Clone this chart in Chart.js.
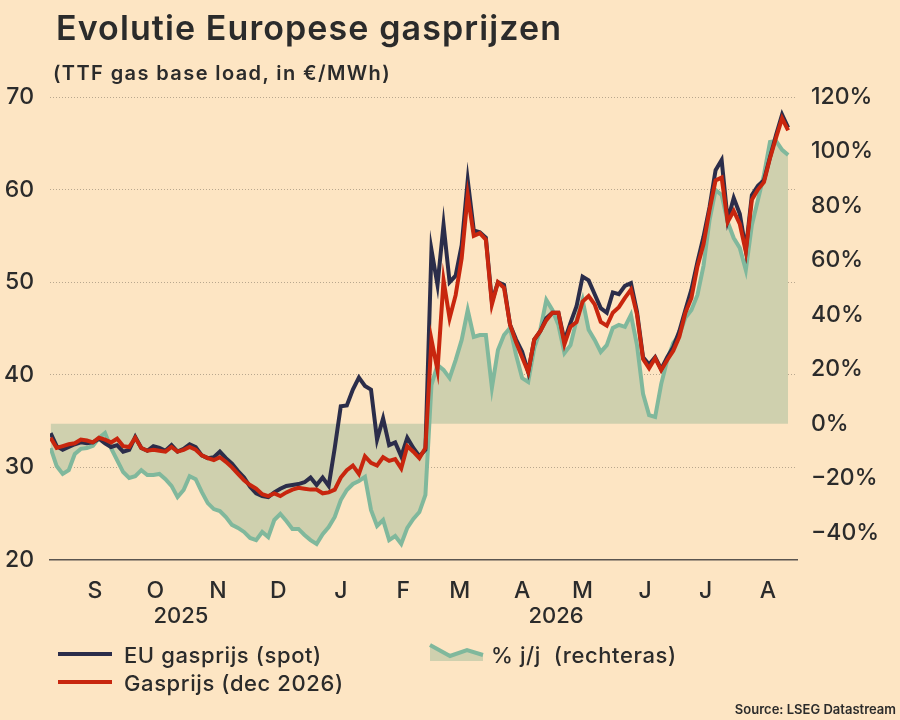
<!DOCTYPE html>
<html lang="nl">
<head>
  <meta charset="UTF-8" />
  <title>Evolutie Europese gasprijzen</title>
  <script src="https://cdn.jsdelivr.net/npm/chart.js"></script>
  <style>
    body {
      margin: 0;
      background: #fde5c3;
      font-family: Inter, "Noto Sans", sans-serif;
      color: #2b2b2b;
    }
    #wrap {
      position: relative;
      width: 900px;
      height: 720px;
      overflow: hidden;
    }
    canvas {
      position: absolute;
      left: 0;
      top: 0;
    }
    .txt {
      position: absolute;
      white-space: nowrap;
      line-height: 1;
    }
    #title { left: 56px; top: 11px; font-size: 34px; font-weight: 600; letter-spacing: 1.1px; }
    #subtitle { left: 53px; top: 63px; font-size: 20px; font-weight: 600; letter-spacing: 1.4px; }
    .year { top: 604px; font-size: 22px; font-weight: 500; transform: translateX(-50%); }
    .leg { font-size: 22px; font-weight: 500; letter-spacing: 0.6px; }
    .swatch { position: absolute; width: 54px; height: 4px; }
    #source { right: 4px; top: 703px; font-size: 13px; font-weight: 600; }
  </style>
</head>
<body>
  <div id="wrap">
    <canvas id="gasChart" width="900" height="720"></canvas>
    <div class="txt" id="title">Evolutie Europese gasprijzen</div>
    <div class="txt" id="subtitle">(TTF gas base load, in €/MWh)</div>
    <div class="txt year" style="left:181px">2025</div>
    <div class="txt year" style="left:556px">2026</div>

    <div class="swatch" style="left:58px; top:652px; background:#2b2d4a"></div>
    <div class="txt leg" style="left:124px; top:644px">EU gasprijs (spot)</div>
    <div class="swatch" style="left:58px; top:680px; background:#c8260e"></div>
    <div class="txt leg" style="left:124px; top:672px">Gasprijs (dec 2026)</div>
    <svg style="position:absolute; left:428px; top:640px" width="60" height="26">
      <polygon points="2,5 22,16 39,10 55,15 55,21 2,21" fill="#cfd0ae" />
      <polyline points="2,5 22,16 39,10 55,15" fill="none" stroke="#80b89c" stroke-width="4" />
    </svg>
    <div class="txt leg" style="left:491px; top:644px">% j/j&nbsp; (rechteras)</div>
    <div class="txt" id="source">Source: LSEG Datastream</div>
  </div>

  <script>
    // dagnummers vanaf 1 augustus 2025, een meetpunt om de 3 dagen
    const startDay = 23;
    const stepDays = 3;

    const monthDays = [45, 75, 106, 136, 167, 198, 226, 257, 287, 318, 348, 379];
    const monthLabels = ['S', 'O', 'N', 'D', 'J', 'F', 'M', 'A', 'M', 'J', 'J', 'A'];
    const leftTicks = [20, 30, 40, 50, 60, 70];
    const rightTicks = [-40, -20, 0, 20, 40, 60, 80, 100, 120];

    // EU gasprijs (spot), €/MWh
    const spot = [
      33.7, 32.3, 31.9, 32.2, 32.5, 32.7, 32.6, 32.7, 33.1, 32.6,
      32.2, 32.4, 31.7, 31.9, 33.3, 32.1, 31.8, 32.3, 32.1, 31.8,
      32.4, 31.7, 32.0, 32.5, 32.2, 31.3, 31.0, 31.1, 31.7, 31.0,
      30.4, 29.6, 28.9, 27.9, 27.2, 26.9, 26.8, 27.3, 27.7, 28.0,
      28.1, 28.2, 28.4, 28.9, 28.1, 28.9, 28.0, 32.1, 36.6, 36.7,
      38.4, 39.7, 38.8, 38.4, 33.0, 35.3, 32.4, 32.7, 31.2, 33.2,
      32.1, 31.2, 31.9, 53.5, 49.7, 56.2, 50.0, 50.7, 54.0, 61.0,
      55.6, 55.4, 54.8, 47.9, 50.0, 49.7, 45.4, 43.8, 42.5, 40.3,
      43.8, 44.7, 46.1, 46.7, 46.7, 43.7, 45.6, 47.4, 50.6, 50.2,
      48.7, 47.2, 46.7, 48.9, 48.7, 49.6, 49.9, 46.8, 41.9, 41.1,
      41.9, 40.6, 41.9, 43.0, 44.7, 47.0, 49.2, 52.2, 54.9, 58.1,
      62.1, 63.2, 56.7, 59.1, 57.4, 53.5, 59.4, 60.4, 61.0, 63.5,
      65.9, 68.1, 66.7
    ];

    // Gasprijs future dec 2026, €/MWh
    const dec26 = [
      33.2, 32.1, 32.3, 32.5, 32.6, 33.0, 32.9, 32.7, 33.2, 33.0,
      32.7, 33.1, 32.3, 32.2, 33.2, 32.1, 31.8, 31.9, 31.8, 31.7,
      32.2, 31.7, 31.9, 32.2, 31.9, 31.3, 31.0, 30.8, 31.1, 30.6,
      30.0, 29.3, 28.6, 28.1, 27.7, 27.1, 26.9, 27.2, 26.9, 27.3,
      27.6, 27.8, 27.7, 27.6, 27.6, 27.2, 27.3, 27.6, 28.9, 29.7,
      30.2, 29.3, 31.2, 30.5, 30.2, 31.1, 30.7, 30.9, 29.9, 32.3,
      31.7, 31.0, 32.1, 43.8, 40.5, 50.2, 46.1, 48.6, 52.6, 59.4,
      55.0, 55.3, 54.6, 47.6, 50.0, 49.4, 45.4, 43.5, 41.9, 40.3,
      43.8, 44.7, 45.9, 46.7, 46.7, 43.3, 45.2, 45.7, 47.9, 48.5,
      47.6, 45.7, 45.3, 46.7, 47.3, 48.3, 49.2, 46.5, 41.7, 40.7,
      41.8, 40.5, 41.6, 42.6, 44.1, 46.7, 48.3, 51.7, 54.1, 57.8,
      61.0, 61.3, 56.5, 57.7, 56.3, 53.3, 58.9, 60.0, 60.8, 63.4,
      65.6, 67.7, 66.4
    ];

    // % j/j (rechteras)
    const yoy = [
      -8.9, -15.5, -18.4, -17.0, -11.1, -9.2, -8.9, -8.1, -5.2, -3.4,
      -8.9, -13.3, -17.7, -19.9, -19.2, -17.0, -18.8, -18.8, -18.4, -20.3,
      -22.8, -26.9, -24.3, -19.2, -20.3, -25.0, -29.1, -31.3, -32.0, -34.2,
      -37.1, -38.2, -39.7, -41.9, -42.7, -39.7, -41.6, -35.3, -33.1, -35.7,
      -38.6, -38.6, -40.8, -42.7, -44.1, -40.5, -37.9, -34.2, -28.0, -24.3,
      -22.1, -21.0, -19.5, -31.6, -37.5, -35.3, -42.7, -41.2, -44.1, -38.2,
      -34.9, -32.4, -26.1, 14.3, 21.6, 19.8, 16.8, 23.4, 30.8, 41.8,
      31.9, 32.6, 32.6, 13.2, 27.1, 32.6, 35.2, 25.3, 16.8, 15.4,
      27.8, 34.5, 45.5, 41.8, 36.3, 26.0, 28.9, 38.1, 45.5, 34.5,
      30.8, 26.4, 28.9, 35.2, 36.3, 35.6, 40.0, 28.9, 11.0, 3.2,
      2.5, 14.6, 23.4, 29.7, 32.6, 38.9, 41.8, 47.3, 58.0, 74.8,
      85.9, 84.0, 74.1, 68.2, 64.6, 56.5, 73.0, 82.2, 91.4, 103.5,
      103.9, 100.6, 98.7
    ];

    const toPoints = arr => arr.map((v, i) => ({ x: startDay + stepDays * i, y: v }));

    const textColor = '#2b2b2b';
    const tickFont = { family: 'Inter, "Noto Sans", sans-serif', size: 23, weight: 500 };

    const ctx = document.getElementById('gasChart').getContext('2d');
    const chart = new Chart(ctx, {
      type: 'line',
      data: {
        datasets: [
          {
            label: 'Gasprijs (dec 2026)',
            data: toPoints(dec26),
            borderColor: '#c8260e',
            borderWidth: 4,
            pointRadius: 0,
            yAxisID: 'y',
            order: 0
          },
          {
            label: 'EU gasprijs (spot)',
            data: toPoints(spot),
            borderColor: '#2b2d4a',
            borderWidth: 4,
            pointRadius: 0,
            yAxisID: 'y',
            order: 1
          },
          {
            label: '% j/j (rechteras)',
            data: toPoints(yoy),
            borderColor: '#80b89c',
            backgroundColor: '#cfd0ae',
            borderWidth: 4,
            pointRadius: 0,
            fill: 'origin',
            yAxisID: 'y1',
            order: 2
          }
        ]
      },
      options: {
        responsive: false,
        animation: false,
        layout: { padding: { top: 97, bottom: 120, left: 0, right: 0 } },
        plugins: {
          legend: { display: false },
          tooltip: { enabled: false }
        },
        scales: {
          x: {
            type: 'linear',
            min: 22.7,
            max: 393.4,
            afterBuildTicks: s => { s.ticks = monthDays.map(v => ({ value: v })); },
            afterFit: s => { s.height = 40; },
            grid: { display: false },
            border: { display: true, color: '#5a5550', width: 1.5 },
            ticks: {
              autoSkip: false,
              maxRotation: 0,
              padding: 9,
              color: textColor,
              font: tickFont,
              callback: v => monthLabels[monthDays.indexOf(v)]
            }
          },
          y: {
            position: 'left',
            min: 20,
            max: 70,
            afterBuildTicks: s => { s.ticks = leftTicks.map(v => ({ value: v })); },
            afterFit: s => { s.width = 50; },
            grid: {
              color: c => (c.tick && c.tick.value === 20) ? 'rgba(0,0,0,0)' : '#b8a78e',
              lineWidth: 1,
              drawTicks: false
            },
            border: { display: false, dash: [1, 2] },
            ticks: { padding: 16, color: textColor, font: tickFont }
          },
          y1: {
            position: 'right',
            min: -50,
            max: 120,
            afterBuildTicks: s => { s.ticks = rightTicks.map(v => ({ value: v })); },
            afterFit: s => { s.width = 103; },
            grid: { drawOnChartArea: false, drawTicks: false },
            border: { display: false },
            ticks: {
              padding: 14,
              color: textColor,
              font: tickFont,
              callback: v => (v < 0 ? '\u2212' : '') + Math.abs(v) + '%'
            }
          }
        }
      }
    });
  </script>
</body>
</html>
